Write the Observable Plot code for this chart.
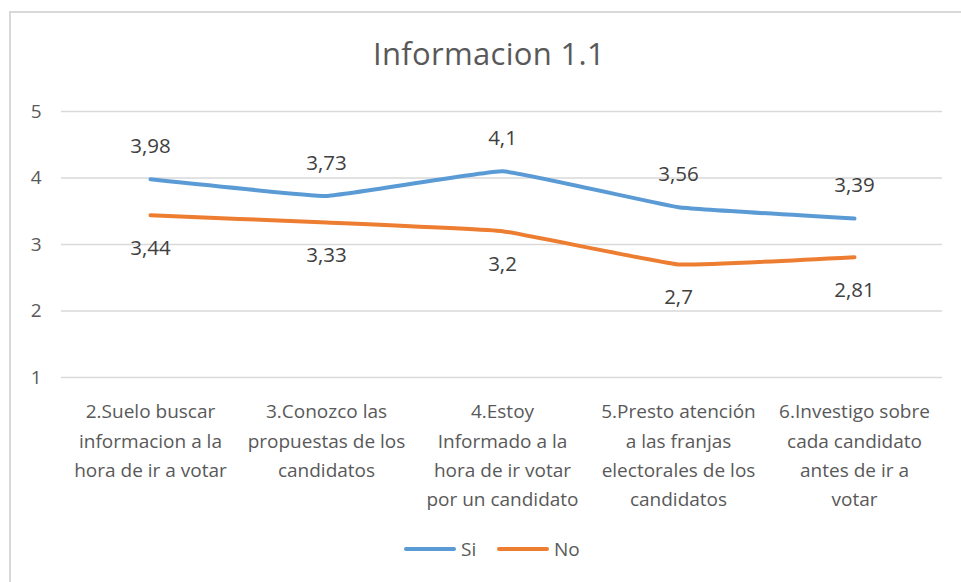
<!DOCTYPE html>
<html>
<head>
<meta charset="utf-8">
<script src="https://cdn.jsdelivr.net/npm/d3@7"></script>
<script src="https://cdn.jsdelivr.net/npm/@observablehq/plot@0.6"></script>
<style>
  html, body { margin: 0; padding: 0; background: #fff; }
  body { width: 961px; height: 582px; position: relative; overflow: hidden; font-family: "Open Sans", sans-serif; }
  #frame { position: absolute; left: 9px; top: 11px; width: 980px; height: 600px; border: 2px solid #d9d9d9; box-sizing: border-box; }
  #title { position: absolute; left: 0; top: 32px; width: 978px; text-align: center; font-size: 31px; color: #595959; letter-spacing: 0.3px; }
  #chart { position: absolute; left: 0; top: 0; }
  #legend { position: absolute; left: 0; top: 535px; width: 961px; height: 28px; font-size: 19px; color: #595959; }
  .lg { position: absolute; top: 0; display: flex; align-items: center; height: 28px; }
  .sw { display: inline-block; width: 52px; height: 4px; border-radius: 2px; margin-right: 5px; }
</style>
</head>
<body>
<div id="frame"></div>
<div id="title">Informacion 1.1</div>
<div id="chart"></div>
<div id="legend">
  <div class="lg" style="left:404px"><span class="sw" style="background:#5b9bd5"></span>Si</div>
  <div class="lg" style="left:497px"><span class="sw" style="background:#ed7d31"></span>No</div>
</div>
<script>
const categories = [
  "2.Suelo buscar\ninformacion a la\nhora de ir a votar",
  "3.Conozco las\npropuestas de los\ncandidatos",
  "4.Estoy\nInformado a la\nhora de ir votar\npor un candidato",
  "5.Presto atención\na las franjas\nelectorales de los\ncandidatos",
  "6.Investigo sobre\ncada candidato\nantes de ir a\nvotar"
];
const siValues = [3.98, 3.73, 4.1, 3.56, 3.39];
const noValues = [3.44, 3.33, 3.2, 2.7, 2.81];
const yTicks = [1, 2, 3, 4, 5];
const seriesNames = ["Si", "No"];
const seriesColors = ["#5b9bd5", "#ed7d31"];

const si = categories.map((c, i) => ({cat: c, value: siValues[i], series: "Si"}));
const no = categories.map((c, i) => ({cat: c, value: noValues[i], series: "No"}));
const fmt = v => String(v).replace(".", ",");

const plot = Plot.plot({
  width: 961,
  height: 520,
  marginTop: 111,
  marginBottom: 143,
  marginLeft: 61,
  marginRight: 19,
  style: {fontFamily: "'Open Sans', sans-serif", background: "transparent"},
  x: {type: "point", domain: categories, padding: 0.5},
  y: {domain: [1, 5]},
  color: {domain: seriesNames, range: seriesColors},
  marks: [
    Plot.gridY(yTicks, {stroke: "#d9d9d9", strokeOpacity: 1, strokeWidth: 1.3}),
    Plot.axisY(yTicks, {tickSize: 0, tickPadding: 20, fontSize: 19, fill: "#595959", tickFormat: d => d, label: null}),
    Plot.axisX({tickSize: 0, tickPadding: 20, fontSize: 19, lineHeight: 1.54, fill: "#595959", label: null}),
    Plot.line(si, {x: "cat", y: "value", stroke: "series", strokeWidth: 4, curve: "cardinal", tension: 0.75}),
    Plot.line(no, {x: "cat", y: "value", stroke: "series", strokeWidth: 4, curve: "cardinal", tension: 0.75}),
    Plot.text(si, {x: "cat", y: "value", text: d => fmt(d.value), dy: -33, fontSize: 20.5, fill: "#404040"}),
    Plot.text(no, {x: "cat", y: "value", text: d => fmt(d.value), dy: 33, fontSize: 20.5, fill: "#404040"})
  ]
});
document.getElementById("chart").appendChild(plot);
</script>
</body>
</html>
